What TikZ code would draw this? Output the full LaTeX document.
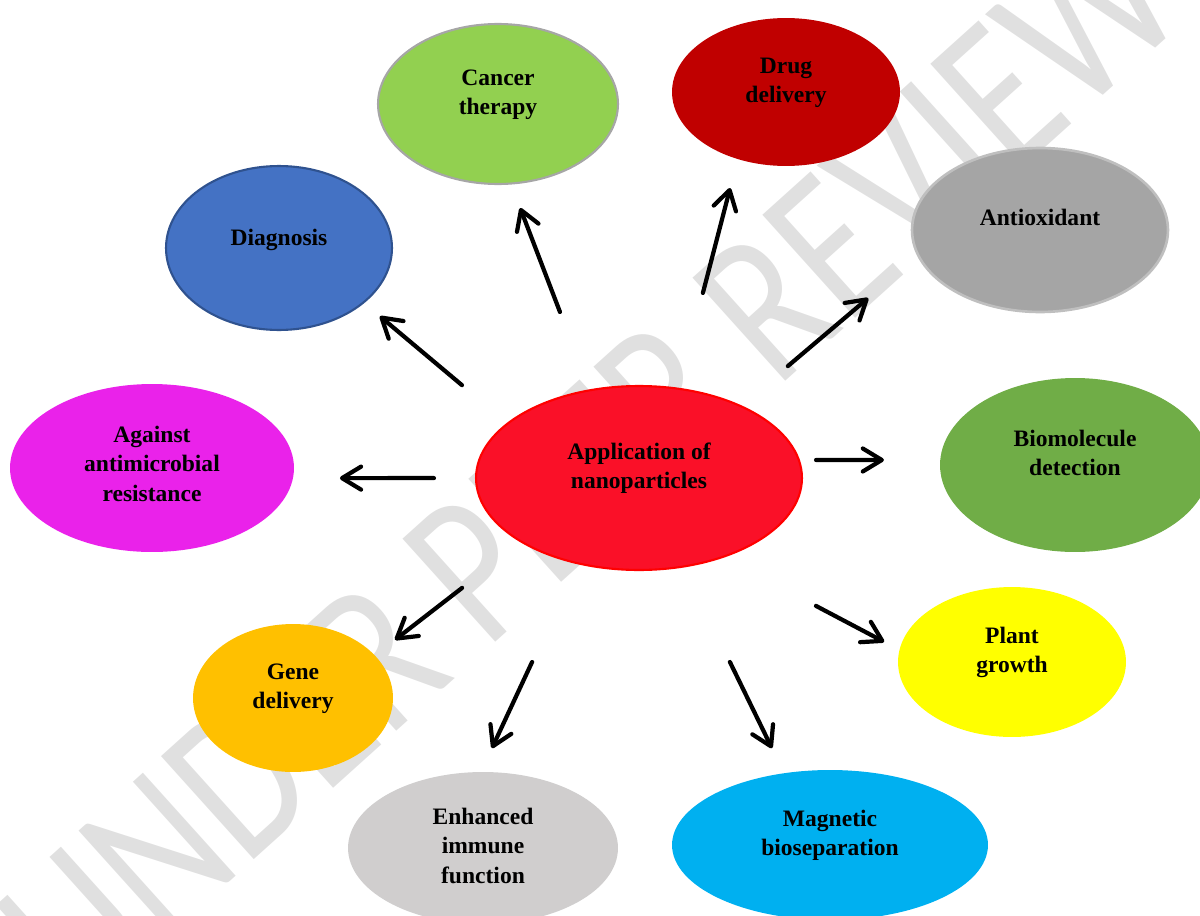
\documentclass[tikz,border=0pt]{standalone}
\usepackage{fontspec}
\setmainfont{Liberation Serif}
\newfontfamily\wmfont{Carlito}
\usepackage{tikz}
\usetikzlibrary{shapes.geometric,arrows.meta,calc}

\definecolor{wmgray}{HTML}{E0E0E0}
\definecolor{cancergreen}{HTML}{92D050}
\definecolor{cancerrim}{HTML}{A6A6A6}
\definecolor{drugred}{HTML}{C00000}
\definecolor{diagblue}{HTML}{4472C4}
\definecolor{diagrim}{HTML}{2F528F}
\definecolor{antioxgray}{HTML}{A5A5A5}
\definecolor{antioxrim}{HTML}{BFBFBF}
\definecolor{appred}{HTML}{FA1028}
\definecolor{apprim}{HTML}{FF0000}
\definecolor{againstpink}{HTML}{EA22EA}
\definecolor{biogreen}{HTML}{70AD47}
\definecolor{geneorange}{HTML}{FFC000}
\definecolor{plantyellow}{HTML}{FFFF00}
\definecolor{immunegray}{HTML}{D0CECE}
\definecolor{magblue}{HTML}{00B0F0}

\tikzset{
	blob/.style = {ellipse, inner sep=0pt, font=\fontsize{13.4}{17}\selectfont\bfseries},
	arr/.style = {line width=2.4pt, line cap=round,
		-{Straight Barb[length=0.38cm, width=0.46cm, line cap=round, line join=round]}}
}
\newcommand{\lifted}[2][0.2cm]{\raisebox{#1}[\height][\depth]{\begin{tabular}{@{}c@{}}#2\end{tabular}}}

\begin{document}
\begin{tikzpicture}[x=0.02cm, y=-0.02cm]
\useasboundingbox (0,0) rectangle (1200,916);

\node[rotate=42, xscale=0.8, inner sep=0pt, text=wmgray, font=\wmfont\fontsize{123}{130}\selectfont] (watermark) at (590,465) {UNDER PEER REVIEW};

\node[blob, fill=cancergreen, draw=cancerrim, line width=1.2pt, minimum width=4.8cm, minimum height=3.2cm] (cancer) at (498,104) {\lifted{Cancer\\therapy}};
\node[blob, fill=drugred, minimum width=4.56cm, minimum height=2.96cm] (drug) at (786,92) {\lifted{Drug\\delivery}};
\node[blob, fill=diagblue, draw=diagrim, line width=1.2pt, minimum width=4.52cm, minimum height=3.28cm] (diag) at (279,248) {\lifted[0.16cm]{Diagnosis}};
\node[blob, fill=antioxgray, draw=antioxrim, line width=1.5pt, minimum width=5.12cm, minimum height=3.28cm] (antiox) at (1040,230) {\lifted{Antioxidant}};
\node[blob, fill=appred, draw=apprim, line width=1.2pt, minimum width=6.52cm, minimum height=3.68cm] (app) at (639,478) {\lifted{Application of\\nanoparticles}};
\node[blob, fill=againstpink, minimum width=5.68cm, minimum height=3.36cm] (against) at (152,468) {\lifted[0.04cm]{Against\\antimicrobial\\resistance}};
\node[blob, fill=biogreen, minimum width=5.4cm, minimum height=3.48cm] (bio) at (1075,465) {\lifted{Biomolecule\\detection}};
\node[blob, fill=geneorange, minimum width=4cm, minimum height=2.96cm] (gene) at (293,698) {\lifted{Gene\\delivery}};
\node[blob, fill=plantyellow, minimum width=4.56cm, minimum height=3cm] (plant) at (1012,662) {\lifted{Plant\\growth}};
\node[blob, fill=immunegray, minimum width=5.4cm, minimum height=3.04cm] (immune) at (483,848) {\lifted[0cm]{Enhanced\\immune\\function}};
\node[blob, fill=magblue, minimum width=6.32cm, minimum height=3cm] (magnetic) at (830,845) {\lifted{Magnetic\\bioseparation}};

\foreach \n/\s/\rs/\e/\re in {cancer/0.46/4.8/0.738/3.1, drug/0.474/1.8/0.736/3.4,
	diag/0.468/4.9/0.715/0.6, antiox/0.395/5.2/0.618/6.4,
	against/0.421/1.2/0.614/1.2, bio/0.408/4.1/0.563/2.5,
	gene/0.508/-0.6/0.714/1.1, plant/0.525/-9.6/0.709/-7.5,
	immune/0.530/-7.3/0.766/-5.7, magnetic/0.496/-1.2/0.728/-1.3}
	\draw[arr] ($(app)!\s!\rs:(\n)$) -- ($(app)!\e!\re:(\n)$);
\end{tikzpicture}
\end{document}
